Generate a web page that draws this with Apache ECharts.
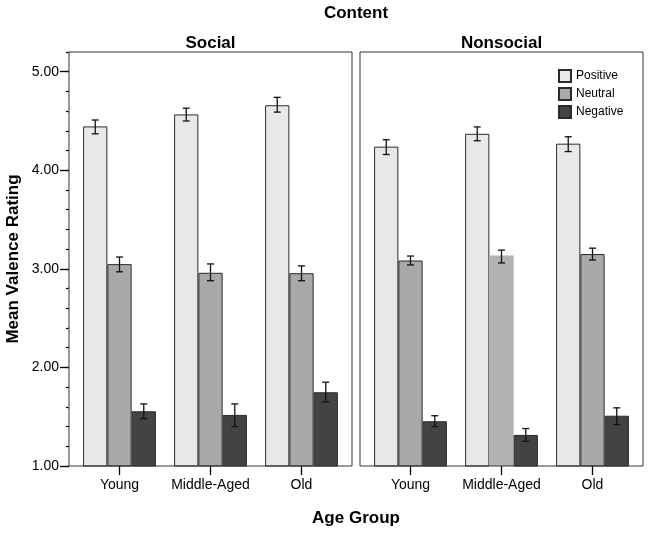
<!DOCTYPE html>
<html>
<head>
<meta charset="utf-8">
<script src="https://cdn.jsdelivr.net/npm/echarts@6/dist/echarts.min.js"></script>
<style>html,body{margin:0;padding:0;background:#fff}#c{width:649px;height:533px}</style>
</head>
<body>
<div id="c"></div>
<script>
var categories = ['Young', 'Middle-Aged', 'Old'];
var seriesNames = ['Positive', 'Neutral', 'Negative'];
var yTicks = [1, 2, 3, 4, 5];

// Social panel means
var socialPositive = [4.445, 4.567, 4.66];
var socialNeutral  = [3.048, 2.96, 2.956];
var socialNegative = [1.555, 1.518, 1.748];
// Social error bar ends
var socialPositiveLow  = [4.37, 4.50, 4.59];
var socialPositiveHigh = [4.51, 4.63, 4.74];
var socialNeutralLow   = [2.97, 2.88, 2.88];
var socialNeutralHigh  = [3.12, 3.05, 3.03];
var socialNegativeLow  = [1.48, 1.40, 1.65];
var socialNegativeHigh = [1.63, 1.63, 1.85];

// Nonsocial panel means
var nonsocialPositive = [4.24, 4.37, 4.27];
var nonsocialNeutral  = [3.085, 3.135, 3.15];
var nonsocialNegative = [1.454, 1.315, 1.51];
// Nonsocial error bar ends
var nonsocialPositiveLow  = [4.16, 4.30, 4.19];
var nonsocialPositiveHigh = [4.31, 4.44, 4.34];
var nonsocialNeutralLow   = [3.04, 3.06, 3.09];
var nonsocialNeutralHigh  = [3.13, 3.19, 3.21];
var nonsocialNegativeLow  = [1.40, 1.25, 1.42];
var nonsocialNegativeHigh = [1.51, 1.38, 1.59];

var FONT = '"Liberation Sans", Arial, Helvetica, sans-serif';
var colors = ['#e8e8e8', '#a9a9a9', '#434343'];
var borderCol = '#2a2a2a';

function errData(lows, highs) {
  var out = [];
  for (var k = 0; k < 3; k++) {
    for (var i = 0; i < 3; i++) out.push([i, lows[k][i], highs[k][i], k]);
  }
  return out;
}

function renderErr(params, api) {
  var ci = api.value(0), lo = api.value(1), hi = api.value(2), k = api.value(3);
  var band = api.size([1, 0])[0];
  var bw = band * 0.8 / 3;
  var pLo = api.coord([ci, lo]);
  var pHi = api.coord([ci, hi]);
  var x = pLo[0] + (k - 1) * bw;
  var h = 3.5;
  var st = {stroke: '#111', lineWidth: 1.3};
  return {
    type: 'group',
    children: [
      {type: 'line', shape: {x1: x, y1: pLo[1], x2: x, y2: pHi[1]}, style: st},
      {type: 'line', shape: {x1: x - h, y1: pHi[1], x2: x + h, y2: pHi[1]}, style: st},
      {type: 'line', shape: {x1: x - h, y1: pLo[1], x2: x + h, y2: pLo[1]}, style: st}
    ]
  };
}

function barSeries(name, data, k, xi, yi, overrides) {
  return {
    type: 'bar', name: name, xAxisIndex: xi, yAxisIndex: yi,
    barGap: '0%', barCategoryGap: '20%', clip: true,
    itemStyle: {color: colors[k], borderColor: borderCol, borderWidth: 1},
    data: data.map(function (v, i) {
      if (overrides && overrides[i]) return {value: v, itemStyle: overrides[i]};
      return v;
    }),
    z: 2
  };
}

var chart = echarts.init(document.getElementById('c'), null, {renderer: 'canvas'});

var TOP = 52, H = 414;

var xCat = function (gi) {
  return {type: 'category', gridIndex: gi, data: categories,
    axisLine: {show: false},
    axisTick: {show: true, alignWithLabel: true, length: 9, lineStyle: {color: '#000', width: 1.3}},
    axisLabel: {fontSize: 14, color: '#000', margin: 12, interval: 0, fontFamily: FONT},
    splitLine: {show: false}};
};

var option = {
  backgroundColor: '#fff',
  animation: false,
  textStyle: {fontFamily: FONT},
  grid: [
    {left: 69, top: TOP, width: 283, height: H, show: true, borderColor: '#333', borderWidth: 1, backgroundColor: 'transparent', z: 5},
    {left: 74, top: TOP, width: 273, height: H},
    {left: 360, top: TOP, width: 283, height: H, show: true, borderColor: '#333', borderWidth: 1, backgroundColor: 'transparent', z: 5},
    {left: 365, top: TOP, width: 273, height: H}
  ],
  xAxis: [
    {type: 'value', gridIndex: 0, show: false},
    xCat(1),
    {type: 'value', gridIndex: 2, show: false},
    xCat(3)
  ],
  yAxis: [
    {type: 'value', gridIndex: 0, position: 'left', min: 1, max: 5.2, interval: 1,
      name: 'Mean Valence Rating', nameLocation: 'middle', nameGap: 47, nameRotate: 90,
      nameTextStyle: {fontSize: 17, fontWeight: 'bold', color: '#000', fontFamily: FONT},
      axisLine: {show: false},
      axisTick: {show: true, length: 9, customValues: yTicks, lineStyle: {color: '#000', width: 1.3}},
      axisLabel: {fontSize: 14, color: '#000', margin: 10, customValues: yTicks, fontFamily: FONT,
        formatter: function (v) { return v.toFixed(2); }},
      splitLine: {show: false}},
    {type: 'value', gridIndex: 0, position: 'left', min: 1, max: 5.2, interval: 0.2,
      axisLine: {show: false},
      axisTick: {show: true, length: 3, lineStyle: {color: '#000', width: 1.2}},
      axisLabel: {show: false},
      splitLine: {show: false}},
    {type: 'value', gridIndex: 1, min: 1, max: 5.2, show: false, splitLine: {show: false}},
    {type: 'value', gridIndex: 2, min: 1, max: 5.2, show: false, splitLine: {show: false}},
    {type: 'value', gridIndex: 3, min: 1, max: 5.2, show: false, splitLine: {show: false}}
  ],
  legend: {
    orient: 'vertical', left: 553, top: 64, itemWidth: 12, itemHeight: 12, itemGap: 4,
    icon: 'rect', data: seriesNames,
    textStyle: {fontSize: 12, color: '#000', fontFamily: FONT}
  },
  graphic: [
    {type: 'text', x: 356, y: 13, style: {text: 'Content', font: 'bold 17px ' + FONT, fill: '#000', align: 'center', verticalAlign: 'middle', textAlign: 'center', textVerticalAlign: 'middle'}},
    {type: 'text', x: 210.5, y: 43, style: {text: 'Social', font: 'bold 17px ' + FONT, fill: '#000', align: 'center', verticalAlign: 'middle', textAlign: 'center', textVerticalAlign: 'middle'}},
    {type: 'text', x: 501.5, y: 43, style: {text: 'Nonsocial', font: 'bold 17px ' + FONT, fill: '#000', align: 'center', verticalAlign: 'middle', textAlign: 'center', textVerticalAlign: 'middle'}},
    {type: 'text', x: 356, y: 518, style: {text: 'Age Group', font: 'bold 17px ' + FONT, fill: '#000', align: 'center', verticalAlign: 'middle', textAlign: 'center', textVerticalAlign: 'middle'}}
  ],
  series: [
    barSeries('Positive', socialPositive, 0, 1, 2),
    barSeries('Neutral', socialNeutral, 1, 1, 2),
    barSeries('Negative', socialNegative, 2, 1, 2),
    barSeries('Positive', nonsocialPositive, 0, 3, 4),
    barSeries('Neutral', nonsocialNeutral, 1, 3, 4, [null, {color: '#b2b2b2', borderWidth: 0}, null]),
    barSeries('Negative', nonsocialNegative, 2, 3, 4),
    {type: 'custom', xAxisIndex: 1, yAxisIndex: 2, renderItem: renderErr, z: 3,
      encode: {x: 0, y: [1, 2]},
      data: errData([socialPositiveLow, socialNeutralLow, socialNegativeLow], [socialPositiveHigh, socialNeutralHigh, socialNegativeHigh])},
    {type: 'custom', xAxisIndex: 3, yAxisIndex: 4, renderItem: renderErr, z: 3,
      encode: {x: 0, y: [1, 2]},
      data: errData([nonsocialPositiveLow, nonsocialNeutralLow, nonsocialNegativeLow], [nonsocialPositiveHigh, nonsocialNeutralHigh, nonsocialNegativeHigh])}
  ]
};
chart.setOption(option);
</script>
</body>
</html>
